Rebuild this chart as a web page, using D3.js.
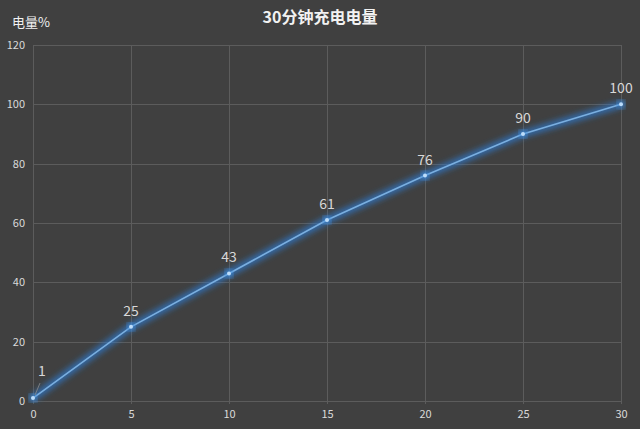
<!DOCTYPE html>
<html>
<head>
<meta charset="utf-8">
<script src="https://cdn.jsdelivr.net/npm/d3@7"></script>
<style>
  html, body { margin: 0; padding: 0; background: #404040; }
  svg { display: block; }
</style>
</head>
<body>
<svg id="chart" width="640" height="429"></svg>
<script>
// charge time in minutes
const minutes = [0, 5, 10, 15, 20, 25, 30];
// battery level %
const levels = [1, 25, 43, 61, 76, 90, 100];
const yTicks = [0, 20, 40, 60, 80, 100, 120];
const xTicks = [0, 5, 10, 15, 20, 25, 30];

const svg = d3.select("#chart");
const width = 640, height = 429;
const margin = {top: 45, right: 19, bottom: 28, left: 33};

svg.append("rect").attr("width", width).attr("height", height).attr("fill", "#404040");

const x = d3.scaleLinear().domain([0, 30]).range([margin.left, width - margin.right]);
const y = d3.scaleLinear().domain([0, 120]).range([height - margin.bottom, margin.top]);

const defs = svg.append("defs");
const blur = defs.append("filter").attr("id", "blur")
    .attr("x", "-10%").attr("y", "-10%").attr("width", "120%").attr("height", "120%");
blur.append("feGaussianBlur").attr("in", "SourceGraphic").attr("stdDeviation", 3);

// grid
const grid = svg.append("g").attr("stroke", "#5c5c5c").attr("stroke-width", 1);
grid.selectAll("line.h").data(yTicks).enter().append("line")
    .attr("x1", x(0)).attr("x2", x(30))
    .attr("y1", d => Math.round(y(d)) + 0.5).attr("y2", d => Math.round(y(d)) + 0.5);
grid.selectAll("line.v").data(xTicks).enter().append("line")
    .attr("x1", d => Math.round(x(d)) + 0.5).attr("x2", d => Math.round(x(d)) + 0.5)
    .attr("y1", y(120)).attr("y2", y(0) + 3);

// axes text
const xAxis = svg.append("g").attr("transform", `translate(0,${y(0) + 3})`)
    .call(d3.axisBottom(x).tickValues(xTicks).tickSize(0).tickPadding(6));
const yAxis = svg.append("g").attr("transform", `translate(${x(0) - 2},0)`)
    .call(d3.axisLeft(y).tickValues(yTicks).tickSize(0).tickPadding(6));
[xAxis, yAxis].forEach(a => {
    a.select(".domain").remove();
    a.selectAll("text").attr("fill", "#dadada").attr("font-size", 11)
        .attr("font-family", "'Noto Sans CJK SC', 'Open Sans', sans-serif");
});

// line with soft glow
const line = d3.line().x((d, i) => x(minutes[i])).y(d => y(d));
svg.append("path").datum(levels)
    .attr("d", line).attr("fill", "none").attr("filter", "url(#blur)")
    .attr("stroke", "#2f7ad0").attr("stroke-width", 6).attr("stroke-opacity", 0.9);
svg.append("path").datum(levels)
    .attr("d", line).attr("fill", "none")
    .attr("stroke", "#7aafe0").attr("stroke-width", 1.6);

const dots = svg.append("g");
dots.selectAll("circle.g").data(levels).enter().append("circle")
    .attr("cx", (d, i) => x(minutes[i])).attr("cy", d => y(d))
    .attr("r", 4).attr("fill", "#3f8ee0").attr("filter", "url(#blur)");
dots.selectAll("circle.c").data(levels).enter().append("circle")
    .attr("cx", (d, i) => x(minutes[i])).attr("cy", d => y(d))
    .attr("r", 2).attr("fill", "#bcdcfa");

// data labels
const labels = svg.append("g").attr("font-family", "'Noto Sans CJK SC', 'Open Sans', sans-serif")
    .attr("font-size", 14).attr("fill", "#d8d8d8").attr("text-anchor", "middle");
labels.selectAll("text").data(levels).enter().append("text")
    .attr("x", (d, i) => i === 0 ? x(minutes[i]) + 9 : x(minutes[i]))
    .attr("y", (d, i) => i === 0 ? y(d) - 22 : y(d) - 11)
    .text(d => d);
// leader line for first label
svg.append("line")
    .attr("x1", x(minutes[0]) + 2).attr("y1", y(levels[0]) - 3)
    .attr("x2", x(minutes[0]) + 7).attr("y2", y(levels[0]) - 15)
    .attr("stroke", "#8a8a8a").attr("stroke-width", 0.8);

// titles
svg.append("text").attr("x", 320).attr("y", 23).attr("text-anchor", "middle")
    .attr("font-family", "'Noto Sans CJK SC', sans-serif").attr("font-weight", "bold")
    .attr("font-size", 16).attr("fill", "#f2f2f2").text("30分钟充电电量");
svg.append("text").attr("x", 12).attr("y", 27)
    .attr("font-family", "'Noto Sans CJK SC', sans-serif")
    .attr("font-size", 13).attr("fill", "#f2f2f2").text("电量%");
</script>
</body>
</html>
